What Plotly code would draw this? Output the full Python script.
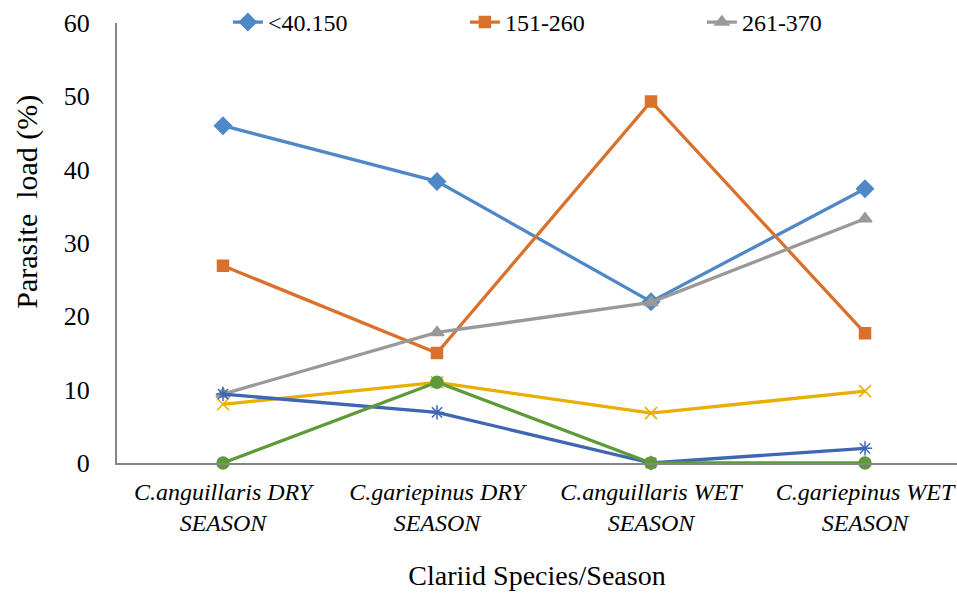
import plotly.graph_objects as go

categories = ["C.anguillaris DRY<br>SEASON", "C.gariepinus DRY<br>SEASON",
              "C.anguillaris WET<br>SEASON", "C.gariepinus WET<br>SEASON"]

s1_name = "<40.150"
s1 = [46.0, 38.4, 22.0, 37.4]
s2_name = "151-260"
s2 = [26.9, 15.0, 49.3, 17.7]
s3_name = "261-370"
s3 = [9.4, 17.8, 21.9, 33.3]
s4 = [8.0, 11.0, 6.8, 9.8]
s5 = [9.4, 6.9, 0.0, 2.0]
s6 = [0.0, 11.0, 0.0, 0.0]

y_ticks = [0, 10, 20, 30, 40, 50, 60]

FONT = "Liberation Serif"

series = [
    (s1_name, s1, "#4F88C6", "diamond", 13, True),
    (s2_name, s2, "#D9712C", "square", 11, True),
    (s3_name, s3, "#999999", "triangle-up", 12, True),
    ("s4", s4, "#E8AE00", "x-thin-open", 12, False),
    ("s5", s5, "#3F66B2", "asterisk-open", 12, False),
    ("s6", s6, "#5E9A3A", "circle", 12, False),
]

fig = go.Figure()
for name, vals, col, sym, sz, show in series:
    fig.add_trace(go.Scatter(
        x=list(range(len(categories))), y=vals, mode="lines+markers", name=name,
        showlegend=show,
        line=dict(color=col, width=3.3),
        marker=dict(symbol=sym, size=sz, color=col,
                    line=dict(color=col, width=1.5)),
        cliponaxis=False,
    ))

fig.add_annotation(
    text="Parasite  load (%)", textangle=-90,
    xref="paper", yref="paper", x=-0.107, y=0.594,
    xanchor="center", yanchor="middle", showarrow=False,
    font=dict(size=30, family=FONT, color="black"),
)

fig.update_layout(
    width=957, height=594,
    margin=dict(l=117, r=0, t=22, b=131),
    paper_bgcolor="white", plot_bgcolor="white",
    font=dict(family=FONT, color="black"),
    legend=dict(orientation="h", x=0.132, y=1.0, xanchor="left", yanchor="middle",
                font=dict(size=24, family=FONT, color="black"),
                entrywidth=192, entrywidthmode="pixels",
                bgcolor="rgba(0,0,0,0)"),
    xaxis=dict(
        range=[-106 / 214, (957 - 223) / 214],
        tickmode="array", tickvals=list(range(len(categories))), ticktext=categories,
        tickfont=dict(size=24, family=FONT, style="italic", color="black"),
        ticklabelstandoff=6,
        showline=True, linecolor="#868686", linewidth=2, showgrid=False, zeroline=False,
        ticks="",
        title=dict(text="Clariid Species/Season", font=dict(size=28, family=FONT, color="black"),
                   standoff=30),
    ),
    yaxis=dict(
        range=[0, 60], tickvals=y_ticks,
        tickfont=dict(size=26, family=FONT, color="black"),
        showline=True, linecolor="#868686", linewidth=2, showgrid=False, zeroline=False,
        ticks="outside", ticklen=20, tickcolor="rgba(0,0,0,0)",
    ),
)

fig.write_html("out.html")
